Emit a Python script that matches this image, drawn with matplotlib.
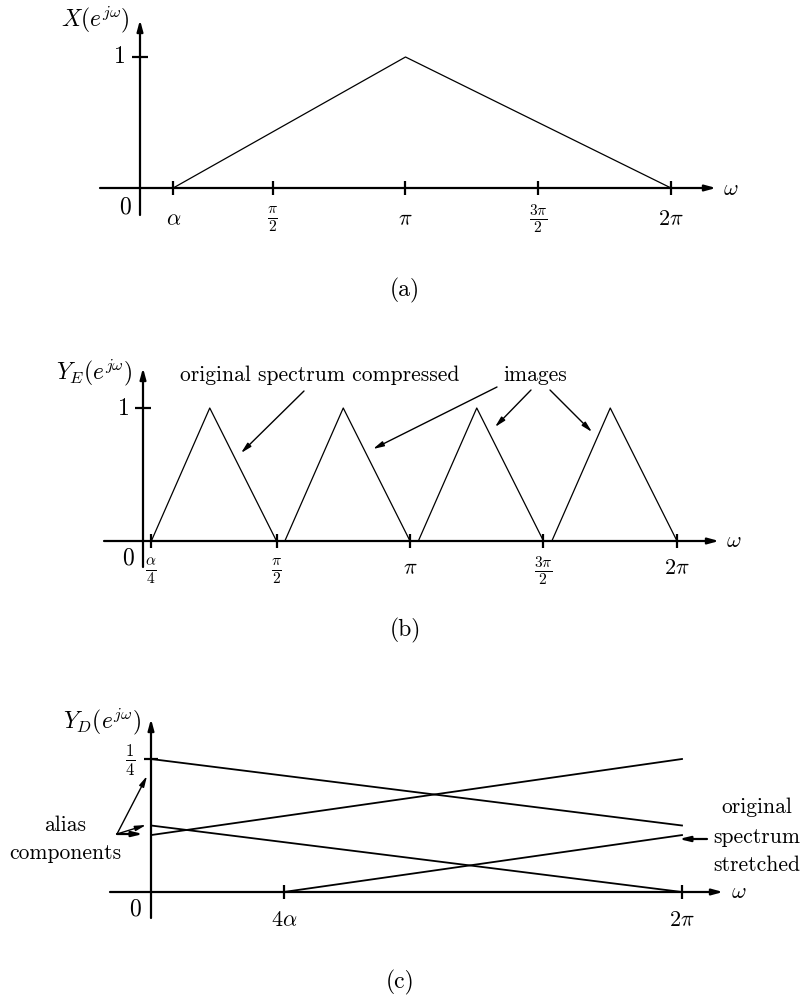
import numpy as np
import matplotlib.pyplot as plt

plt.rcParams["mathtext.fontset"] = "cm"
plt.rcParams["font.family"] = "serif"
plt.rcParams["font.serif"] = ["cmr10"]
plt.rcParams["axes.unicode_minus"] = False

# ── spectra (ω in rad, magnitude) ─────────────────────────
alpha = np.pi / 8

# (a) original spectrum
x_w = [alpha, np.pi, 2 * np.pi]
x_mag = [0, 1, 0]
x_ticks = [alpha, np.pi / 2, np.pi, 3 * np.pi / 2, 2 * np.pi]
x_ticklabels = [r"$\alpha$", r"$\frac{\pi}{2}$", r"$\pi$", r"$\frac{3\pi}{2}$", r"$2\pi$"]

# (b) expanded signal: compressed spectrum + images
ye_start = [alpha / 4, np.pi / 2 + alpha / 4, np.pi + alpha / 4, 3 * np.pi / 2 + alpha / 4]
ye_peak = [np.pi / 4, 3 * np.pi / 4, 5 * np.pi / 4, 7 * np.pi / 4]
ye_end = [np.pi / 2, np.pi, 3 * np.pi / 2, 2 * np.pi]
ye_mag = [0, 1, 0]
ye_ticks = [alpha / 4, np.pi / 2, np.pi, 3 * np.pi / 2, 2 * np.pi]
ye_ticklabels = [r"$\frac{\alpha}{4}$", r"$\frac{\pi}{2}$", r"$\pi$", r"$\frac{3\pi}{2}$", r"$2\pi$"]

# (c) decimated signal: stretched spectrum + alias components
yd_w = [0, 2 * np.pi]
alias1 = [0.125, 0.0]
alias2 = [0.25, 0.125]
alias3 = [0.107, 0.25]
stretch_w = [4 * alpha, 2 * np.pi]
stretch_mag = [0.0, 0.107]
yd_ticks = [4 * alpha, 2 * np.pi]
yd_ticklabels = [r"$4\alpha$", r"$2\pi$"]

# ── layout helpers (figure pixels, measured from top) ─────
W, H = 800, 997
fig = plt.figure(figsize=(W / 100, H / 100), dpi=100)


def panel(top, bottom, x0, xref, wref, y0, yref, vref):
    ax = fig.add_axes([0, 1 - bottom / H, 1, (bottom - top) / H])
    sx = (xref - x0) / wref
    sy = (y0 - yref) / vref
    ax.set_xlim(-x0 / sx, (W - x0) / sx)
    ax.set_ylim(-(bottom - y0) / sy, (y0 - top) / sy)
    ax.axis("off")
    return ax


def P(x, y):
    return (x, H - y)


def arrow(ax, p0, p1, lw=1.0, hl=0.9, hw=0.22, ms=7):
    ax.annotate("", xy=P(*p1), xytext=P(*p0),
                xycoords="figure pixels", textcoords="figure pixels",
                arrowprops=dict(arrowstyle=f"-|>,head_length={hl},head_width={hw}",
                                lw=lw, color="k", shrinkA=0, shrinkB=0,
                                mutation_scale=ms))


def txt(x, y, s, size=15, **kw):
    fig.text(x / W, 1 - y / H, s, fontsize=size, ha="center", va="center", **kw)


def axes_lines(ax, ox, oy, xl, xr, yb, yt):
    arrow(ax, (xl, oy), (xr, oy), lw=1.6, hl=0.8, hw=0.22, ms=8)
    arrow(ax, (ox, yb), (ox, yt), lw=1.6, hl=0.8, hw=0.22, ms=8)


# ────────────────────────────────────────────────────────────
# (a)
# ────────────────────────────────────────────────────────────
ax = panel(0, 320, 140, 405.5, np.pi, 188, 57, 1.0)
axes_lines(ax, 140, 188, 100, 716, 215, 20)
ax.plot(x_w, x_mag, color="k", lw=0.9)
ax.plot(x_ticks, np.zeros(len(x_ticks)), ls="none", marker="|", ms=10, mew=1.6, color="k")
ax.plot([0], [1], ls="none", marker="_", ms=11, mew=1.6, color="k")
for t, lab in zip(x_ticks, x_ticklabels):
    ax.annotate(lab, xy=(t, 0), xytext=(0, -31), textcoords="offset pixels",
                ha="center", va="center", fontsize=16)
txt(95, 20, r"$X(e^{j\omega})$", 17)
txt(119, 57, r"$1$", 17)
txt(125, 207, r"$0$", 17)
txt(731, 189, r"$\omega$", 16)
txt(405, 290, "(a)", 17)

# ────────────────────────────────────────────────────────────
# (b)
# ────────────────────────────────────────────────────────────
ax = panel(320, 660, 143, 410, np.pi, 541, 408, 1.0)
axes_lines(ax, 143, 541, 104, 719, 567, 368)
for s, p, e in zip(ye_start, ye_peak, ye_end):
    ax.plot([s, p, e], ye_mag, color="k", lw=0.9)
ax.plot(ye_ticks, np.zeros(len(ye_ticks)), ls="none", marker="|", ms=10, mew=1.6, color="k")
ax.plot([0], [1], ls="none", marker="_", ms=11, mew=1.6, color="k")
for t, lab in zip(ye_ticks, ye_ticklabels):
    off = -30 if "frac" in lab else -27
    ax.annotate(lab, xy=(t, 0), xytext=(0, off), textcoords="offset pixels",
                ha="center", va="center", fontsize=16)
txt(94, 373, r"$Y_E(e^{j\omega})$", 17)
txt(123, 409, r"$1$", 17)
txt(128, 558, r"$0$", 17)
txt(734, 541, r"$\omega$", 16)
txt(320, 375, "original spectrum compressed", 15.5)
txt(535, 375, "images", 15.5)
arrow(ax, (304, 391), (241, 453))
arrow(ax, (497, 387), (373, 449))
arrow(ax, (531, 390), (495, 427))
arrow(ax, (550, 390), (592, 432))
txt(405, 630, "(b)", 17)

# ────────────────────────────────────────────────────────────
# (c)
# ────────────────────────────────────────────────────────────
ax = panel(660, 997, 151, 682, 2 * np.pi, 892, 759, 0.25)
axes_lines(ax, 151, 892, 110, 723, 918, 719)
for mag in (alias1, alias2, alias3):
    ax.plot(yd_w, mag, color="k", lw=1.3)
ax.plot(stretch_w, stretch_mag, color="k", lw=1.3)
ax.plot(yd_ticks, np.zeros(len(yd_ticks)), ls="none", marker="|", ms=10, mew=1.6, color="k")
ax.plot([0], [0.25], ls="none", marker="_", ms=10, mew=1.6, color="k")
for t, lab in zip(yd_ticks, yd_ticklabels):
    ax.annotate(lab, xy=(t, 0), xytext=(0, -28), textcoords="offset pixels",
                ha="center", va="center", fontsize=16)
txt(102, 722, r"$Y_D(e^{j\omega})$", 17)
txt(130, 760, r"$\frac{1}{4}$", 17)
txt(135, 909, r"$0$", 17)
txt(739, 892, r"$\omega$", 16)
txt(65, 825, "alias", 15.5)
txt(65, 853, "components", 15.5)
arrow(ax, (117, 834), (147, 776))
arrow(ax, (117, 834), (146, 825))
arrow(ax, (117, 834), (143, 834), lw=1.6)
txt(757, 807, "original", 15.5)
txt(757, 837, "spectrum", 15.5)
txt(757, 865, "stretched", 15.5)
arrow(ax, (707, 839), (679, 839), lw=1.6)
txt(400, 982, "(c)", 17)

fig.savefig("out.png", dpi=100)
